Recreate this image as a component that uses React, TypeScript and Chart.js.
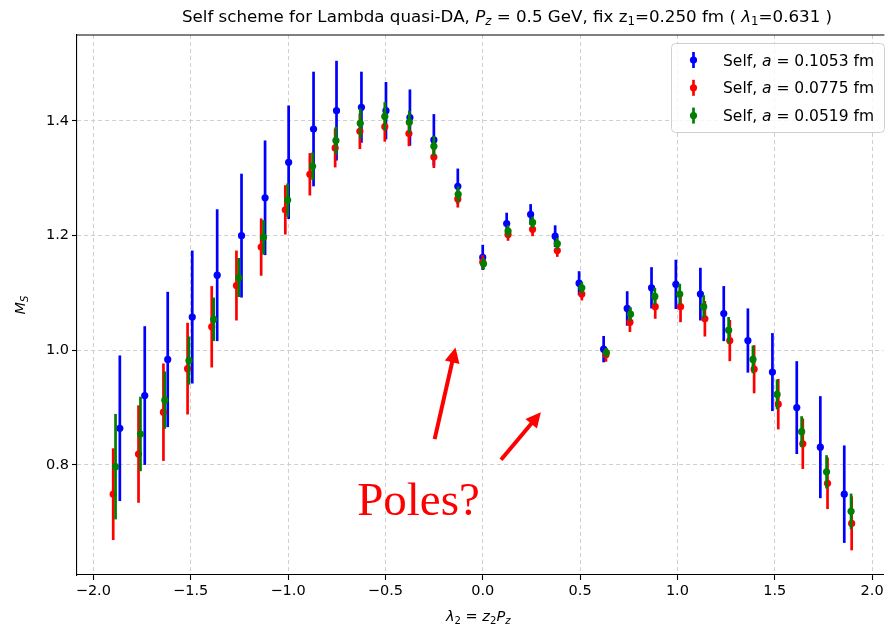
import React, { useEffect, useRef } from 'react';
import { Chart, registerables } from 'chart.js';

Chart.register(...registerables);

// ---- data ----
const blueX = [-1.864, -1.736, -1.618, -1.492, -1.364, -1.239, -1.118, -0.997, -0.869, -0.751, -0.623, -0.497, -0.374, -0.251, -0.128, 0.0, 0.123, 0.246, 0.372, 0.495, 0.621, 0.742, 0.867, 0.992, 1.118, 1.238, 1.362, 1.488, 1.613, 1.734, 1.857];
const blueY = [0.864, 0.921, 0.984, 1.058, 1.131, 1.200, 1.266, 1.328, 1.386, 1.418, 1.424, 1.418, 1.406, 1.367, 1.286, 1.162, 1.221, 1.237, 1.199, 1.117, 1.002, 1.073, 1.109, 1.115, 1.098, 1.064, 1.017, 0.962, 0.900, 0.831, 0.749];
const blueE = [0.127, 0.121, 0.118, 0.116, 0.115, 0.108, 0.100, 0.099, 0.100, 0.087, 0.062, 0.050, 0.049, 0.045, 0.031, 0.022, 0.019, 0.018, 0.019, 0.021, 0.023, 0.030, 0.036, 0.043, 0.046, 0.048, 0.056, 0.068, 0.081, 0.089, 0.085];

const redX = [-1.898, -1.768, -1.640, -1.516, -1.392, -1.265, -1.138, -1.014, -0.888, -0.758, -0.631, -0.503, -0.379, -0.251, -0.128, 0.0, 0.130, 0.256, 0.383, 0.509, 0.633, 0.756, 0.886, 1.016, 1.141, 1.269, 1.394, 1.518, 1.644, 1.771, 1.895];
const redY = [0.749, 0.819, 0.892, 0.968, 1.041, 1.113, 1.180, 1.245, 1.307, 1.353, 1.382, 1.390, 1.378, 1.337, 1.264, 1.154, 1.202, 1.211, 1.174, 1.098, 0.992, 1.049, 1.076, 1.076, 1.055, 1.017, 0.967, 0.906, 0.837, 0.768, 0.698];
const redE = [0.080, 0.085, 0.085, 0.080, 0.071, 0.061, 0.050, 0.043, 0.037, 0.034, 0.031, 0.026, 0.022, 0.019, 0.015, 0.012, 0.011, 0.012, 0.011, 0.011, 0.012, 0.017, 0.021, 0.027, 0.031, 0.036, 0.042, 0.044, 0.044, 0.045, 0.047];

const greenX = [-1.886, -1.758, -1.633, -1.509, -1.382, -1.253, -1.126, -1.002, -0.874, -0.754, -0.629, -0.503, -0.377, -0.251, -0.126, 0.004, 0.130, 0.256, 0.383, 0.509, 0.635, 0.759, 0.884, 1.012, 1.135, 1.263, 1.388, 1.512, 1.638, 1.766, 1.892];
const greenY = [0.797, 0.854, 0.913, 0.982, 1.054, 1.127, 1.197, 1.262, 1.321, 1.366, 1.396, 1.408, 1.398, 1.356, 1.272, 1.151, 1.208, 1.223, 1.186, 1.109, 0.996, 1.063, 1.094, 1.098, 1.076, 1.035, 0.984, 0.923, 0.858, 0.788, 0.719];
const greenE = [0.092, 0.065, 0.050, 0.042, 0.038, 0.034, 0.030, 0.029, 0.024, 0.024, 0.026, 0.025, 0.020, 0.018, 0.014, 0.010, 0.010, 0.010, 0.010, 0.010, 0.008, 0.012, 0.015, 0.018, 0.020, 0.023, 0.024, 0.026, 0.027, 0.029, 0.031];

const seriesLabels = ['0.1053', '0.0775', '0.0519'];
const xTicks = [-2.0, -1.5, -1.0, -0.5, 0.0, 0.5, 1.0, 1.5, 2.0];
const yTicks = [0.8, 1.0, 1.2, 1.4];

// ---- rich text helpers ----
const FONT = '"DejaVu Sans", sans-serif';
type Seg = { t: string; i?: boolean; sub?: boolean };

function segFont(size: number, s: Seg) {
  const sz = s.sub ? size * 0.7 : size;
  return `${s.i ? 'italic ' : ''}${sz}px ${FONT}`;
}
function measureRich(ctx: CanvasRenderingContext2D, segs: Seg[], size: number) {
  let w = 0;
  for (const s of segs) {
    ctx.font = segFont(size, s);
    w += ctx.measureText(s.t).width;
  }
  return w;
}
function drawRich(ctx: CanvasRenderingContext2D, segs: Seg[], size: number, x: number, y: number, align: string) {
  const w = measureRich(ctx, segs, size);
  let cx = align === 'center' ? x - w / 2 : align === 'right' ? x - w : x;
  ctx.textAlign = 'left';
  ctx.textBaseline = 'alphabetic';
  for (const s of segs) {
    ctx.font = segFont(size, s);
    ctx.fillText(s.t, cx, s.sub ? y + size * 0.2 : y);
    cx += ctx.measureText(s.t).width;
  }
}
function drawArrow(ctx: CanvasRenderingContext2D, x1: number, y1: number, x2: number, y2: number, lw: number, hl: number, hw: number) {
  const a = Math.atan2(y2 - y1, x2 - x1);
  const bx = x2 - hl * Math.cos(a);
  const by = y2 - hl * Math.sin(a);
  ctx.lineWidth = lw;
  ctx.beginPath();
  ctx.moveTo(x1, y1);
  ctx.lineTo(bx + Math.cos(a), by + Math.sin(a));
  ctx.stroke();
  ctx.beginPath();
  ctx.moveTo(x2, y2);
  ctx.lineTo(bx + (hw / 2) * Math.sin(a), by - (hw / 2) * Math.cos(a));
  ctx.lineTo(bx - (hw / 2) * Math.sin(a), by + (hw / 2) * Math.cos(a));
  ctx.closePath();
  ctx.fill();
}

const errs = [blueE, redE, greenE];

const decor = {
  id: 'decor',
  beforeDatasetDraw(chart: any, args: any) {
    const ctx = chart.ctx;
    const ds = chart.data.datasets[args.index];
    const e = errs[args.index];
    const xs = chart.scales.x;
    const ys = chart.scales.y;
    ctx.save();
    ctx.strokeStyle = ds.backgroundColor;
    ctx.lineWidth = 2.7;
    ds.data.forEach((p: any, k: number) => {
      const px = xs.getPixelForValue(p.x);
      ctx.beginPath();
      ctx.moveTo(px, ys.getPixelForValue(p.y - e[k]));
      ctx.lineTo(px, ys.getPixelForValue(p.y + e[k]));
      ctx.stroke();
    });
    ctx.restore();
  },
  afterDraw(chart: any) {
    const ctx = chart.ctx;
    const ca = chart.chartArea;
    const xs = chart.scales.x;
    const ys = chart.scales.y;
    ctx.save();
    // top spine
    ctx.strokeStyle = '#000';
    ctx.lineWidth = 1.1;
    ctx.beginPath();
    ctx.moveTo(ca.left, ca.top);
    ctx.lineTo(ca.right + 1, ca.top);
    ctx.stroke();

    ctx.fillStyle = '#000';
    // title
    drawRich(ctx, [
      { t: 'Self scheme for Lambda quasi-DA, ' },
      { t: 'P', i: true }, { t: 'z', i: true, sub: true },
      { t: ' = 0.5 GeV, fix z' }, { t: '1', sub: true },
      { t: '=0.250 fm ( ' },
      { t: 'λ', i: true }, { t: '1', sub: true },
      { t: '=0.631 )' },
    ], 16.7, 507, 22, 'center');
    // x title
    drawRich(ctx, [
      { t: 'λ', i: true }, { t: '2', sub: true }, { t: ' = ' },
      { t: 'z', i: true }, { t: '2', sub: true },
      { t: 'P', i: true }, { t: 'z', i: true, sub: true },
    ], 14.5, (ca.left + ca.right) / 2 - 2, 621, 'center');
    // y title
    ctx.save();
    ctx.translate(25, (ca.top + ca.bottom) / 2);
    ctx.rotate(-Math.PI / 2);
    drawRich(ctx, [{ t: 'M', i: true }, { t: 'S', i: true, sub: true }], 14.5, 0, 0, 'center');
    ctx.restore();

    // legend
    const lx = 671, ly = 43, lw = 213, lh = 89;
    ctx.beginPath();
    ctx.roundRect(lx + 0.5, ly + 0.5, lw, lh, 4);
    ctx.fillStyle = 'rgba(255,255,255,0.8)';
    ctx.fill();
    ctx.strokeStyle = '#d0d0d0';
    ctx.lineWidth = 1;
    ctx.stroke();
    chart.data.datasets.forEach((ds: any, k: number) => {
      const ry = 60 + k * 27.8;
      ctx.strokeStyle = ds.backgroundColor;
      ctx.fillStyle = ds.backgroundColor;
      ctx.lineWidth = 2.7;
      ctx.beginPath();
      ctx.moveTo(693.5, ry - 8);
      ctx.lineTo(693.5, ry + 8);
      ctx.stroke();
      ctx.beginPath();
      ctx.arc(693.5, ry, 3.6, 0, Math.PI * 2);
      ctx.fill();
      ctx.fillStyle = '#000';
      drawRich(ctx, [
        { t: 'Self, ' }, { t: 'a', i: true }, { t: ' = ' + seriesLabels[k] + ' fm' },
      ], 15.5, 723, ry + 5.5, 'left');
    });

    // annotations
    ctx.strokeStyle = '#ff0000';
    ctx.fillStyle = '#ff0000';
    drawArrow(ctx, xs.getPixelForValue(-0.247), ys.getPixelForValue(0.845), xs.getPixelForValue(-0.140), ys.getPixelForValue(1.0047), 4, 15, 15);
    drawArrow(ctx, xs.getPixelForValue(0.094), ys.getPixelForValue(0.809), xs.getPixelForValue(0.2985), ys.getPixelForValue(0.892), 4, 15, 15);
    ctx.font = '47px "Liberation Serif", serif';
    ctx.textAlign = 'left';
    ctx.textBaseline = 'alphabetic';
    ctx.fillText('Poles?', xs.getPixelForValue(-0.645), ys.getPixelForValue(0.712));
    ctx.restore();
  },
};

function mk(xs: number[], ys: number[]) {
  return xs.map((x, i) => ({ x, y: ys[i] }));
}

const gridOpts: any = {
  color: '#cfcfcf',
  lineWidth: 1,
  tickColor: '#000',
  tickLength: 5,
  tickWidth: 1.1,
  tickBorderDash: [],
};
const borderOpts: any = { display: true, color: '#000', width: 1.1, dash: [4, 3] };

export default function App() {
  const ref = useRef<HTMLCanvasElement>(null);
  useEffect(() => {
    if (!ref.current) return;
    const colors = ['#0000ff', '#ff0000', '#008000'];
    const chart = new Chart(ref.current, {
      type: 'scatter',
      data: {
        datasets: [
          { label: 'blue', data: mk(blueX, blueY), backgroundColor: colors[0], order: 3 },
          { label: 'red', data: mk(redX, redY), backgroundColor: colors[1], order: 2 },
          { label: 'green', data: mk(greenX, greenY), backgroundColor: colors[2], order: 1 },
        ].map((d) => ({ ...d, pointRadius: 3.6, pointHoverRadius: 3.6, borderWidth: 0, showLine: false, clip: false as any })),
      },
      options: {
        responsive: false,
        animation: false,
        devicePixelRatio: 1,
        layout: { padding: { left: 0, top: 35, right: 1, bottom: 0 } },
        plugins: { legend: { display: false }, title: { display: false }, tooltip: { enabled: false } },
        events: [],
        scales: {
          x: {
            type: 'linear',
            min: -2.084,
            max: 2.058,
            afterBuildTicks: (s: any) => { s.ticks = xTicks.map((v) => ({ value: v })); },
            afterFit: (s: any) => { s.height = 54; },
            ticks: {
              color: '#000',
              font: { family: FONT, size: 14.5 },
              padding: 3,
              autoSkip: false,
              maxRotation: 0,
              callback: (v: any) => Number(v).toFixed(1).replace('-', '\u2212'),
            },
            grid: gridOpts,
            border: borderOpts,
          },
          y: {
            type: 'linear',
            min: 0.608,
            max: 1.55,
            afterBuildTicks: (s: any) => { s.ticks = yTicks.map((v) => ({ value: v })); },
            afterFit: (s: any) => { s.width = 77; },
            ticks: {
              color: '#000',
              font: { family: FONT, size: 14.5 },
              padding: 3,
              autoSkip: false,
              callback: (v: any) => Number(v).toFixed(1),
            },
            grid: gridOpts,
            border: borderOpts,
          },
        },
      },
      plugins: [decor],
    });
    return () => chart.destroy();
  }, []);
  return (
    <div style={{ position: 'fixed', left: 0, top: 0, width: 887, height: 629, background: '#fff' }}>
      <canvas ref={ref} width={887} height={629} style={{ display: 'block' }} />
    </div>
  );
}
